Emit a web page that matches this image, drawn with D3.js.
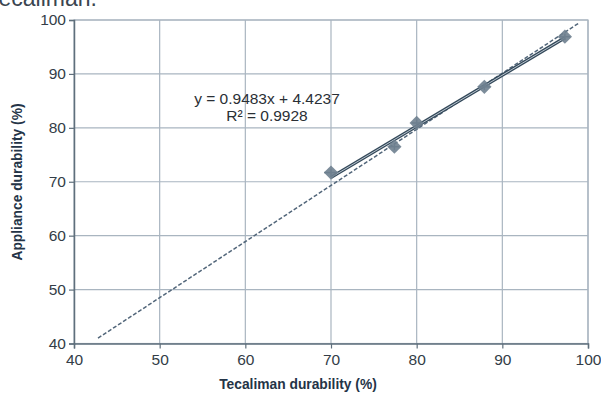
<!DOCTYPE html>
<html><head><meta charset="utf-8">
<script src="https://cdn.jsdelivr.net/npm/d3@7"></script>
<style>body{margin:0;background:#fff}svg{display:block}</style>
</head><body>
<script>
const tecaliman = [70.0, 77.4, 80.0, 87.9, 97.3];
const appliance = [71.7, 76.5, 80.9, 87.6, 96.9];
const xErr = [0.8, 0.6, 0.6, 0.7, 0.6];
const yErr = [0.6, 0.6, 0.6, 0.6, 0.6];
const slope = 0.9483, intercept = 4.4237, r2 = 0.9928;
const trendX = [70.0, 97.3];
const dashedX = [42.8, 98.9];
const dashedY = [41.0, 99.4];
const xTicks = [40, 50, 60, 70, 80, 90, 100];
const yTicks = [40, 50, 60, 70, 80, 90, 100];

const W = 601, H = 397;
const svg = d3.select("body").append("svg").attr("width", W).attr("height", H)
  .style("font-family", "'Liberation Sans', Arial, sans-serif");

const x = d3.scaleLinear().domain([40, 100]).range([74, 588]);
const y = d3.scaleLinear().domain([40, 100]).range([343.5, 20]);

const grid = "#a9b5c0", axisCol = "#5f6f7c", txt = "#333d47";

// cropped caption at top
svg.append("text").attr("x", -13).attr("y", 6).attr("font-size", 23).attr("fill", "#3a4550").text("Tecaliman.");

// grid
svg.append("g").selectAll("line").data(xTicks.slice(1)).join("line")
  .attr("x1", d => x(d)).attr("x2", d => x(d)).attr("y1", y(100)).attr("y2", y(40))
  .attr("stroke", grid).attr("stroke-width", 1.2);
svg.append("g").selectAll("line").data(yTicks.slice(1)).join("line")
  .attr("x1", x(40)).attr("x2", x(100)).attr("y1", d => y(d)).attr("y2", d => y(d))
  .attr("stroke", grid).attr("stroke-width", 1.2);
svg.append("rect").attr("x", x(40)).attr("y", y(100)).attr("width", x(100) - x(40)).attr("height", y(40) - y(100))
  .attr("fill", "none").attr("stroke", grid).attr("stroke-width", 1.2);

// axes
const xAxis = svg.append("g").attr("transform", `translate(0,${y(40)})`)
  .call(d3.axisBottom(x).tickValues(xTicks).tickSize(5).tickPadding(5));
const yAxis = svg.append("g").attr("transform", `translate(${x(40)},0)`)
  .call(d3.axisLeft(y).tickValues(yTicks).tickSize(5).tickPadding(3));
[xAxis, yAxis].forEach(g => {
  g.select(".domain").attr("stroke", axisCol).attr("stroke-width", 1.5);
  g.selectAll(".tick line").attr("stroke", axisCol).attr("stroke-width", 1.2);
  g.selectAll(".tick text").attr("fill", txt).attr("font-size", 15.5)
    .style("font-family", "'Liberation Sans', Arial, sans-serif");
});

// dashed line
svg.append("line").attr("x1", x(dashedX[0])).attr("y1", y(dashedY[0]))
  .attr("x2", x(dashedX[1])).attr("y2", y(dashedY[1]))
  .attr("stroke", "#52667a").attr("stroke-width", 1.5).attr("stroke-dasharray", "4,2");

// trend line (double appearance)
const tl = svg.append("g");
tl.append("line").attr("x1", x(trendX[0])).attr("y1", y(slope * trendX[0] + intercept))
  .attr("x2", x(trendX[1])).attr("y2", y(slope * trendX[1] + intercept))
  .attr("stroke", "#34495a").attr("stroke-width", 3.4);
tl.append("line").attr("x1", x(trendX[0])).attr("y1", y(slope * trendX[0] + intercept))
  .attr("x2", x(trendX[1])).attr("y2", y(slope * trendX[1] + intercept))
  .attr("stroke", "#b9c4ce").attr("stroke-width", 1);

// markers with error bars
const pts = tecaliman.map((v, i) => ({ x: v, y: appliance[i], ex: xErr[i], ey: yErr[i] }));
const mk = svg.append("g").selectAll("g").data(pts).join("g");
mk.append("line").attr("x1", d => x(d.x - d.ex)).attr("x2", d => x(d.x + d.ex))
  .attr("y1", d => y(d.y)).attr("y2", d => y(d.y)).attr("stroke", "#6a7d8c").attr("stroke-width", 1.5);
mk.append("line").attr("x1", d => x(d.x)).attr("x2", d => x(d.x))
  .attr("y1", d => y(d.y - d.ey)).attr("y2", d => y(d.y + d.ey)).attr("stroke", "#6a7d8c").attr("stroke-width", 1.5);
mk.append("path").attr("d", d3.symbol(d3.symbolDiamond2, 130)())
  .attr("transform", d => `translate(${x(d.x)},${y(d.y)})`)
  .attr("fill", "#6e808f").attr("opacity", 0.9);

// equation
svg.append("text").attr("x", 267).attr("y", 104).attr("text-anchor", "middle")
  .attr("font-size", 15.5).attr("fill", "#2a2f35")
  .text(`y = ${slope}x + ${intercept}`);
svg.append("text").attr("x", 267).attr("y", 121).attr("text-anchor", "middle")
  .attr("font-size", 15.5).attr("fill", "#2a2f35")
  .text(`R² = ${r2}`);

// axis titles
svg.append("text").attr("x", 298).attr("y", 389).attr("text-anchor", "middle")
  .attr("font-size", 13.8).attr("font-weight", "bold").attr("fill", "#243447")
  .text("Tecaliman durability (%)");
svg.append("text").attr("transform", "translate(22,182) rotate(-90)").attr("text-anchor", "middle")
  .attr("font-size", 13.8).attr("font-weight", "bold").attr("fill", "#243447")
  .text("Appliance durability (%)");
</script>
</body></html>
